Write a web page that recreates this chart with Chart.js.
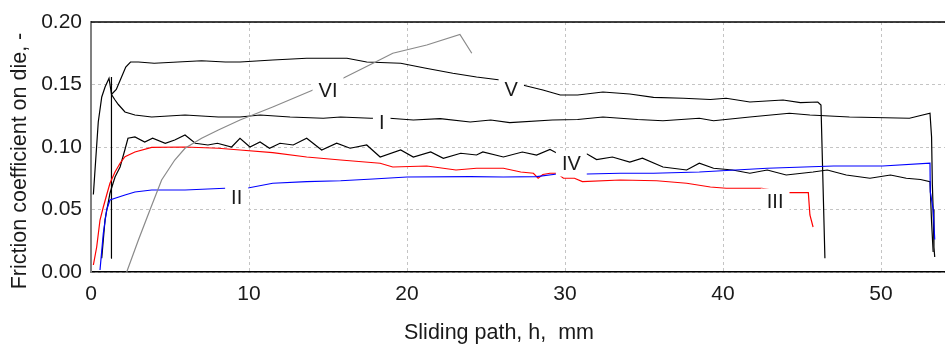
<!DOCTYPE html>
<html>
<head>
<meta charset="utf-8">
<script src="https://cdn.jsdelivr.net/npm/chart.js@4/dist/chart.umd.min.js"></script>
<style>
  body { margin: 0; background: #fff; }
  #wrap { width: 945px; height: 344px; }
</style>
</head>
<body>
<div id="wrap"><canvas id="grafico"></canvas></div>
<script>
// [sliding path mm, friction coefficient]
const curveI = [
  [0.15, 0.062], [0.46, 0.12], [0.68, 0.14], [0.89, 0.148], [1.14, 0.155], [1.3, 0.142],
  [1.5, 0.138], [1.73, 0.134], [2.15, 0.128], [2.78, 0.1256], [3.84, 0.124], [5.95, 0.1256],
  [8.06, 0.124], [9.43, 0.124], [10.7, 0.1256], [12.6, 0.124], [14.7, 0.123], [15.8, 0.124],
  [17.7, 0.123], [18.9, 0.123], [20.4, 0.1216], [22.1, 0.1227], [24.0, 0.120], [25.3, 0.1216],
  [26.5, 0.1195], [29.2, 0.1216], [30.8, 0.122], [32.4, 0.124], [34.6, 0.122], [36.2, 0.121],
  [38.5, 0.123], [39.4, 0.121], [41.7, 0.124], [44.2, 0.127], [45.5, 0.1256], [48.0, 0.124],
  [51.8, 0.123], [53.1, 0.127], [53.2, 0.108], [53.25, 0.07], [53.3, 0.05], [53.35, 0.02], [53.4, 0.012],
];

const curveII = [
  [0.57, 0.0016], [0.78, 0.031], [0.99, 0.0496], [1.2, 0.0576], [1.52, 0.059], [2.15, 0.0616],
  [2.78, 0.064], [3.84, 0.0656], [5.95, 0.0656], [8.48, 0.067], [9.85, 0.067], [11.5, 0.071],
  [13.65, 0.0723], [15.8, 0.073], [17.85, 0.0744], [20.0, 0.076], [24.0, 0.0763], [26.1, 0.076],
  [28.2, 0.0763], [29.5, 0.0784], [31.4, 0.0784], [33.5, 0.079], [35.6, 0.079], [38.5, 0.080],
  [42.8, 0.083], [47.0, 0.0848], [50.1, 0.0848], [53.1, 0.087], [53.12, 0.064], [53.3, 0.05], [53.4, 0.026],
];

const curveIII = [
  [0.15, 0.0056], [0.36, 0.020], [0.57, 0.0416], [0.78, 0.052], [0.99, 0.0616], [1.2, 0.071],
  [1.52, 0.080], [1.84, 0.087], [2.15, 0.0923], [2.78, 0.096], [3.84, 0.0997], [5.95, 0.100],
  [8.06, 0.099], [9.43, 0.0976], [11.5, 0.0955], [13.65, 0.092], [15.8, 0.0896], [18.3, 0.087],
  [19.1, 0.084], [21.25, 0.0848], [23.1, 0.0816], [24.4, 0.083], [26.1, 0.083], [27.2, 0.080],
  [28.0, 0.079], [28.3, 0.075], [28.6, 0.078], [29.05, 0.079], [29.5, 0.079], [29.9, 0.075],
  [30.6, 0.075], [31.1, 0.0723], [33.5, 0.0736], [35.8, 0.073], [37.7, 0.071], [39.2, 0.068],
  [40.2, 0.067], [42.45, 0.067], [44.1, 0.0635], [45.4, 0.0635], [45.5, 0.0456], [45.7, 0.036],
];

const curveIV = [
  [0.68, 0.011], [0.89, 0.042], [1.2, 0.063], [1.52, 0.076], [1.84, 0.084], [2.15, 0.098],
  [2.34, 0.107], [2.78, 0.108], [3.4, 0.104], [3.9, 0.107], [4.7, 0.103], [5.3, 0.1056],
  [5.95, 0.1096], [6.6, 0.103], [7.4, 0.1016], [8.0, 0.103], [8.9, 0.100], [9.43, 0.107],
  [10.06, 0.100], [10.7, 0.104], [11.3, 0.099], [11.96, 0.103], [12.8, 0.1016], [13.65, 0.107],
  [14.6, 0.0976], [15.55, 0.103], [16.4, 0.099], [17.45, 0.1016], [18.3, 0.092], [19.6, 0.0976],
  [20.4, 0.092], [21.5, 0.096], [22.3, 0.091], [23.4, 0.095], [24.4, 0.0936], [24.8, 0.096],
  [26.1, 0.092], [27.3, 0.096], [28.2, 0.0936], [29.05, 0.098], [29.5, 0.095], [31.4, 0.0944],
  [32.0, 0.090], [33.0, 0.092], [34.1, 0.088], [34.9, 0.091], [36.2, 0.084], [37.7, 0.0816],
  [38.5, 0.087], [39.4, 0.083], [40.6, 0.0816], [41.7, 0.079], [42.8, 0.0816], [44.0, 0.0776],
  [45.7, 0.080], [46.6, 0.0816], [47.8, 0.0776], [49.3, 0.075], [50.6, 0.0776], [51.6, 0.075],
  [52.5, 0.074], [53.1, 0.0723], [53.2, 0.04], [53.3, 0.016],
];

const curveV = [
  [1.27, 0.011], [1.27, 0.156], [1.32, 0.142], [1.6, 0.146], [1.9, 0.155], [2.2, 0.164],
  [2.5, 0.168], [3.0, 0.168], [4.0, 0.167], [5.5, 0.168], [7.0, 0.169], [8.5, 0.168],
  [9.43, 0.168], [11.5, 0.1696], [13.65, 0.171], [16.2, 0.171], [17.45, 0.168], [19.6, 0.167],
  [21.2, 0.163], [22.9, 0.159], [24.4, 0.156], [25.9, 0.1536], [27.5, 0.149], [28.6, 0.1456],
  [29.7, 0.1416], [30.8, 0.1416], [32.4, 0.144], [34.1, 0.1424], [35.6, 0.1397], [37.5, 0.139],
  [39.2, 0.138], [40.2, 0.139], [41.7, 0.136], [43.8, 0.1376], [44.9, 0.1355], [46.0, 0.136],
  [46.2, 0.1336], [46.45, 0.011],
];

const curveVI = [
  [2.26, 0.0], [3.0, 0.0256], [3.73, 0.0496], [4.47, 0.0736], [5.3, 0.0896], [5.95, 0.099],
  [7.0, 0.107], [8.06, 0.1136], [9.43, 0.1216], [11.5, 0.132], [14.05, 0.1456], [15.95, 0.155],
  [17.85, 0.167], [19.1, 0.175], [21.25, 0.1816], [23.35, 0.190], [24.1, 0.175],
];

const curveLabels = [
  { text: "VI", x: 15.0, y: 0.1456 },
  { text: "V", x: 26.6, y: 0.1464 },
  { text: "I", x: 18.4, y: 0.12 },
  { text: "IV", x: 30.4, y: 0.0868 },
  { text: "II", x: 9.22, y: 0.0596 },
  { text: "III", x: 43.3, y: 0.0564 },
];

const xTickValues = [0, 10, 20, 30, 40, 50];
const yTicksEvery = 0.05;
const xTitle = "Sliding path, h,  mm";
const yTitle = "Friction coefficient on die, -";

const FUENTE = "'Liberation Sans', Arial, sans-serif";

function serie(puntos, color) {
  return {
    data: puntos.map((p) => ({ x: p[0], y: p[1] })),
    borderColor: color,
    borderWidth: 1.2,
    pointRadius: 0,
    tension: 0,
    fill: false,
  };
}

const etiquetas = {
  id: "etiquetas",
  afterDatasetsDraw(chart) {
    const { ctx, chartArea, scales } = chart;
    ctx.save();
    ctx.font = "20px " + FUENTE;
    ctx.textAlign = "center";
    ctx.textBaseline = "middle";
    curveLabels.forEach((l) => {
      const px = scales.x.getPixelForValue(l.x);
      const py = scales.y.getPixelForValue(l.y);
      const w = ctx.measureText(l.text).width + 12;
      ctx.fillStyle = "#fff";
      ctx.fillRect(px - w / 2, py - 13, w, 26);
      ctx.fillStyle = "#1a1a1a";
      ctx.fillText(l.text, px, py + 1);
    });
    // borde superior
    ctx.strokeStyle = "#000";
    ctx.lineWidth = 1.5;
    ctx.beginPath();
    ctx.moveTo(chartArea.left, chartArea.top);
    ctx.lineTo(chartArea.right, chartArea.top);
    ctx.stroke();

    // titulos de ejes
    ctx.font = "21.5px " + FUENTE;
    ctx.fillStyle = "#1a1a1a";
    ctx.fillText(xTitle, 499, 333);
    ctx.translate(20, 161);
    ctx.rotate(-Math.PI / 2);
    ctx.fillText(yTitle, 0, 0);
    ctx.restore();
  },
};

const ctx = document.getElementById("grafico");

const grafico = new Chart(ctx, {
  type: "line",
  data: {
    datasets: [
      serie(curveVI, "#8a8a8a"),
      serie(curveII, "#0000ff"),
      serie(curveIII, "#ff0000"),
      serie(curveIV, "#000000"),
      serie(curveI, "#000000"),
      serie(curveV, "#000000"),
    ],
  },
  options: {
    responsive: true,
    maintainAspectRatio: false,
    animation: false,
    layout: { padding: { top: 22, left: 0, right: 0, bottom: 0 } },
    plugins: {
      legend: { display: false },
      tooltip: { enabled: false },
    },
    scales: {
      x: {
        type: "linear",
        min: 0,
        max: 54.05,
        afterFit: (s) => { s.height = 72; },
        afterBuildTicks: (s) => {
          s.ticks = xTickValues.map((v) => ({ value: v }));
        },
        ticks: {
          padding: 10,
          color: "#1a1a1a",
          font: { family: FUENTE, size: 21 },
        },
        grid: {
          color: "#c4c4c4",
          drawTicks: false,
        },
        border: { color: "#000", width: 1.5, dash: [3, 3] },
      },
      y: {
        min: 0,
        max: 0.2,
        afterFit: (s) => { s.width = 91; },
        ticks: {
          stepSize: yTicksEvery,
          padding: 9,
          color: "#1a1a1a",
          font: { family: FUENTE, size: 21 },
          callback: (v) => Number(v).toFixed(2),
        },
        grid: {
          color: "#c4c4c4",
          drawTicks: false,
        },
        border: { color: "#808080", width: 2, dash: [3, 3] },
      },
    },
  },
  plugins: [etiquetas],
});
</script>
</body>
</html>
